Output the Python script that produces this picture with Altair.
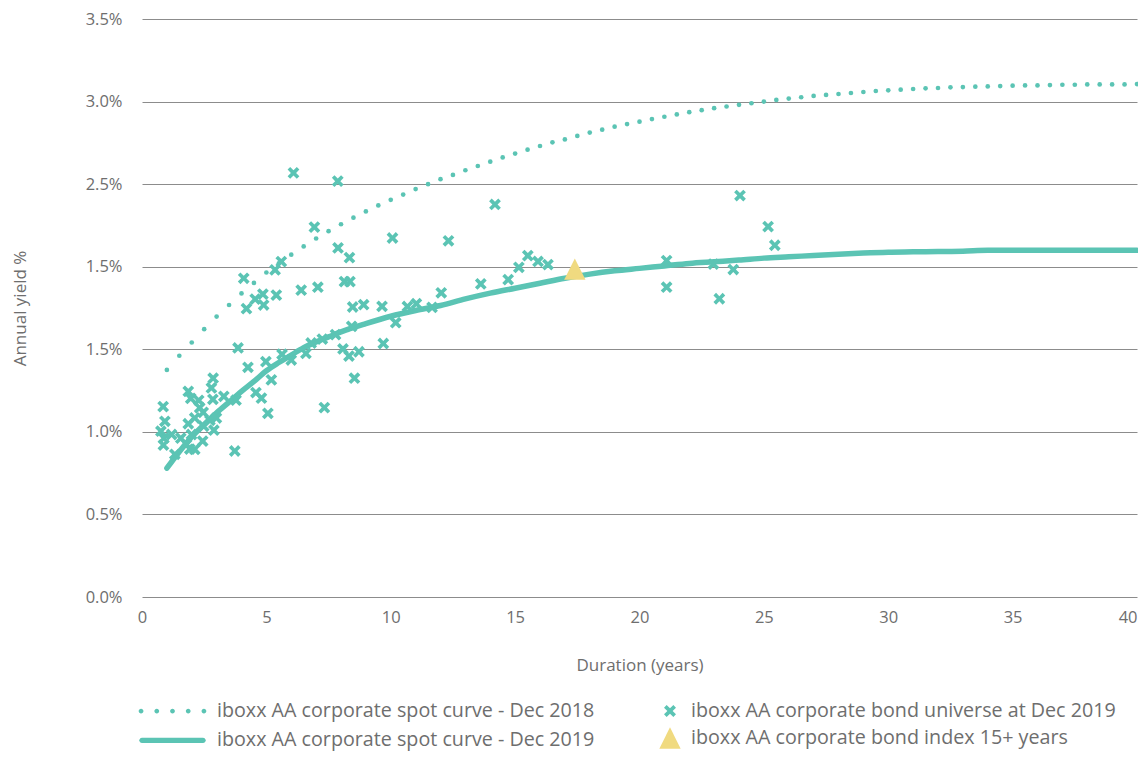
import altair as alt
import pandas as pd

TEAL = "#5BC4B4"
YELLOW = "#F0DA80"
GREY = "#6E6E6E"
GRID = "#8C8C8C"
FONT = "Open Sans"

L2018 = "iboxx AA corporate spot curve - Dec 2018"
L2019 = "iboxx AA corporate spot curve - Dec 2019"
LUNI = "iboxx AA corporate bond universe at Dec 2019"
LIDX = "iboxx AA corporate bond index 15+ years"

# Dec 2018 spot curve (dotted), one point every half year
curve2018_x = [1.0, 1.5, 2.0, 2.5, 3.0, 3.5, 4.0, 4.5, 5.0, 5.5, 6.0, 6.5, 7.0, 7.5,
               8.0, 8.5, 9.0, 9.5, 10.0, 10.5, 11.0, 11.5, 12.0, 12.5, 13.0, 13.5,
               14.0, 14.5, 15.0, 15.5, 16.0, 16.5, 17.0, 17.5, 18.0, 18.5, 19.0, 19.5,
               20.0, 20.5, 21.0, 21.5, 22.0, 22.5, 23.0, 23.5, 24.0, 24.5, 25.0, 25.5,
               26.0, 26.5, 27.0, 27.5, 28.0, 28.5, 29.0, 29.5, 30.0, 30.5, 31.0, 31.5,
               32.0, 32.5, 33.0, 33.5, 34.0, 34.5, 35.0, 35.5, 36.0, 36.5, 37.0, 37.5,
               38.0, 38.5, 39.0, 39.5, 40.0]
curve2018_y = [1.375, 1.461, 1.541, 1.622, 1.698, 1.768, 1.838, 1.902, 1.965, 2.020,
               2.073, 2.123, 2.171, 2.215, 2.257, 2.297, 2.335, 2.371, 2.405, 2.437,
               2.470, 2.500, 2.530, 2.556, 2.584, 2.610, 2.636, 2.662, 2.685, 2.709,
               2.731, 2.753, 2.771, 2.792, 2.812, 2.830, 2.848, 2.864, 2.878, 2.894,
               2.908, 2.922, 2.936, 2.948, 2.960, 2.970, 2.980, 2.990, 3.000, 3.010,
               3.018, 3.026, 3.034, 3.040, 3.046, 3.052, 3.058, 3.064, 3.068, 3.072,
               3.076, 3.080, 3.082, 3.086, 3.088, 3.090, 3.092, 3.094, 3.096, 3.098,
               3.098, 3.100, 3.102, 3.102, 3.104, 3.104, 3.104, 3.104, 3.106]

# Dec 2019 spot curve (solid)
curve2019_x = [1.0, 1.5, 2.0, 2.5, 3.0, 3.5, 4.0, 4.5, 5.0, 5.5, 6.0, 6.5, 7.0, 7.5,
               8.0, 9.0, 10.0, 11.0, 12.0, 13.0, 14.0, 15.0, 16.0, 17.0, 18.0, 19.0,
               20.0, 21.0, 22.0, 23.0, 24.0, 25.0, 26.0, 27.0, 28.0, 29.0, 30.0, 31.0,
               32.0, 33.0, 34.0, 40.0]
curve2019_y = [0.78, 0.88, 0.97, 1.045, 1.115, 1.18, 1.245, 1.305, 1.37, 1.42, 1.465,
               1.51, 1.545, 1.575, 1.605, 1.655, 1.70, 1.735, 1.765, 1.805, 1.84, 1.87,
               1.90, 1.93, 1.955, 1.975, 1.99, 2.005, 2.02, 2.03, 2.04, 2.052, 2.06,
               2.068, 2.076, 2.083, 2.088, 2.09, 2.092, 2.094, 2.099, 2.099]

# Bond universe at Dec 2019 (crosses)
bonds_x = [6.09, 7.87, 6.93, 10.07, 7.88, 8.34, 4.09, 5.35, 5.60, 4.86,
           4.55, 4.20, 4.89, 5.40, 6.40, 7.07, 8.14, 8.36, 8.47, 8.91,
           9.65, 10.20, 10.67, 11.03, 11.66, 12.03, 9.70, 12.32, 14.19, 13.62,
           14.72, 15.15, 15.51, 15.92, 16.32, 21.09, 21.09, 22.97, 23.21, 23.77,
           24.04, 25.17, 25.44,
           3.86, 4.26, 4.98, 5.20, 5.63, 6.00, 6.59, 6.80, 7.25, 7.78, 8.43,
           8.08, 8.32, 8.72, 8.54, 7.33, 4.58, 4.80, 5.06, 3.78, 3.73, 3.29,
           2.86, 2.79, 1.86, 1.96, 0.85, 2.85, 2.28, 2.32, 2.46, 0.92, 1.86,
           0.76, 0.88, 0.86, 1.19, 1.56, 1.99, 1.79, 1.92, 2.44, 2.89, 2.73,
           2.99, 2.48, 1.32, 2.12, 2.12]
bonds_y = [2.568, 2.518, 2.240, 2.174, 2.114, 2.055, 1.930, 1.981, 2.031, 1.834,
           1.804, 1.746, 1.768, 1.828, 1.858, 1.876, 1.910, 1.910, 1.756, 1.770,
           1.760, 1.661, 1.759, 1.776, 1.754, 1.842, 1.535, 2.157, 2.377, 1.896,
           1.922, 1.996, 2.067, 2.032, 2.013, 2.037, 1.876, 2.016, 1.806, 1.983,
           2.431, 2.243, 2.130,
           1.508, 1.391, 1.425, 1.315, 1.470, 1.435, 1.475, 1.538, 1.562, 1.589, 1.639,
           1.502, 1.459, 1.485, 1.325, 1.147, 1.238, 1.204, 1.112, 1.192, 0.884, 1.215,
           1.325, 1.266, 1.245, 1.203, 1.153, 1.197, 1.191, 1.146, 1.118, 1.064, 1.049,
           1.004, 0.962, 0.920, 0.984, 0.962, 0.984, 0.924, 0.896, 0.944, 1.010, 1.070,
           1.084, 1.034, 0.864, 0.894, 1.084]

# Index 15+ years (triangle)
index_x = [17.4]
index_y = [1.985]

x_ticks = [0, 5, 10, 15, 20, 25, 30, 35, 40]
y_ticks = [0.0, 0.5, 1.0, 1.5, 2.0, 2.5, 3.0, 3.5]
y_tick_labels = ["0.0%", "0.5%", "1.0%", "1.5%", "1.5%", "2.5%", "3.0%", "3.5%"]

# symbol shapes (unit coordinates)
CROSS = ("M0,0.2475L-0.3147,0.5622L-0.5622,0.3147L-0.2475,0L-0.5622,-0.3147"
         "L-0.3147,-0.5622L0,-0.2475L0.3147,-0.5622L0.5622,-0.3147L0.2475,0"
         "L0.5622,0.3147L0.3147,0.5622Z")
TRI = "M0,-1L1,1L-1,1Z"
R = 0.3
DOTS5 = "".join(
    "M{a},0A{r},{r},0,1,0,{b},0A{r},{r},0,1,0,{a},0Z".format(a=c - R, b=c + R, r=R)
    for c in (-3.93, -1.965, 0.0, 1.965, 3.93)
)
BAR = "M-3.81,-0.34L3.81,-0.34A0.34,0.34,0,0,1,3.81,0.34L-3.81,0.34A0.34,0.34,0,0,1,-3.81,-0.34Z"

df2018 = pd.DataFrame({"x": curve2018_x, "y": curve2018_y, "curve": L2018})
df2019 = pd.DataFrame({"x": curve2019_x, "y": curve2019_y, "curve": L2019})
dfcurves = pd.concat([df2018, df2019], ignore_index=True)
dfb = pd.DataFrame({"x": bonds_x, "y": bonds_y, "pts": LUNI})
dfi = pd.DataFrame({"x": index_x, "y": index_y, "pts": LIDX})

labels_js = "[" + ",".join("'" + s + "'" for s in y_tick_labels) + "]"
last_x = x_ticks[-1]

x_enc = alt.X(
    "x:Q",
    scale=alt.Scale(domain=[0, 40], nice=False, zero=False),
    axis=alt.Axis(
        values=x_ticks, title="Duration (years)", grid=False, domain=False, ticks=False,
        labelFlush=False, labelPadding=12, labelFontSize=16.5, labelColor=GREY,
        labelAlign={"condition": {"test": "datum.value == %s" % last_x, "value": "right"},
                    "value": "center"},
        labelFont=FONT, titleFont=FONT, titleFontSize=17, titleColor=GREY,
        titleFontWeight="normal", titleY=68, titleBaseline="middle",
    ),
)
y_enc = alt.Y(
    "y:Q",
    scale=alt.Scale(domain=[0, 3.5], nice=False, zero=False),
    axis=alt.Axis(
        values=y_ticks, labelExpr=labels_js + "[round(datum.value * 2)]",
        title="Annual yield %", grid=True, gridColor=GRID, gridWidth=1,
        domain=False, ticks=False, labelPadding=20, labelFontSize=16.5,
        labelColor=GREY, labelFont=FONT, titleFont=FONT, titleFontSize=17,
        titleColor=GREY, titleFontWeight="normal", titleX=-122, titleY=289,
        titleAngle=270, titleAlign="center", titleBaseline="middle",
    ),
)

LFS = 19.7
legend_a = alt.Legend(
    title=None, orient="none", legendX=-2, legendY=682.2, direction="vertical",
    symbolSize=256, symbolStrokeWidth=0, symbolFillColor=TEAL, symbolOpacity=1,
    symbolOffset=22.65, labelOffset=34.65, rowPadding=8.3, padding=0,
    labelFont=FONT, labelFontSize=LFS, labelColor=GREY, labelLimit=700,
)
legend_b = alt.Legend(
    title=None, orient="none", legendX=517, legendY=681, direction="vertical",
    symbolSize=455, symbolStrokeWidth=0, symbolOpacity=1,
    symbolOffset=0, labelOffset=10, rowPadding=6, padding=0,
    labelFont=FONT, labelFontSize=LFS, labelColor=GREY, labelLimit=700,
)

# Group A: the two spot curves
dots = alt.Chart(df2018).mark_circle(size=22, opacity=1, color=TEAL).encode(
    x=x_enc, y=y_enc)
line = alt.Chart(df2019).mark_line(
    strokeWidth=5.5, strokeCap="round", strokeJoin="round",
    interpolate="monotone", opacity=1, color=TEAL).encode(x=x_enc, y=y_enc)
curve_key = alt.Chart(dfcurves).mark_point(
    filled=True, opacity=0, color=TEAL, size=1).encode(
    x=x_enc, y=y_enc,
    shape=alt.Shape("curve:N",
                    scale=alt.Scale(domain=[L2018, L2019], range=[DOTS5, BAR]),
                    legend=legend_a),
)
group_a = alt.layer(dots, line, curve_key)

# Group B: bond universe and index
pts_shape = alt.Shape("pts:N", scale=alt.Scale(domain=[LUNI, LIDX], range=[CROSS, TRI]),
                      legend=legend_b)
pts_color = alt.Color("pts:N", scale=alt.Scale(domain=[LUNI, LIDX], range=[TEAL, YELLOW]),
                      legend=legend_b)
bonds = alt.Chart(dfb).mark_point(filled=True, size=440, strokeWidth=0, opacity=1).encode(
    x=x_enc, y=y_enc, shape=pts_shape, color=pts_color)
index = alt.Chart(dfi).mark_point(filled=True, size=455, strokeWidth=0, opacity=1).encode(
    x=x_enc, y=y_enc, shape=pts_shape, color=pts_color)
group_b = alt.layer(bonds, index)

chart = alt.layer(group_a, group_b).resolve_scale(
    shape="independent", color="independent"
).properties(
    width=995, height=578,
    autosize=alt.AutoSizeParams(type="none"),
    padding={"left": 134, "top": 11, "right": 1, "bottom": 155},
    background="white",
).configure(font=FONT).configure_view(stroke="transparent")

chart.save("out.html", embed_options={"renderer": "svg", "actions": False})
